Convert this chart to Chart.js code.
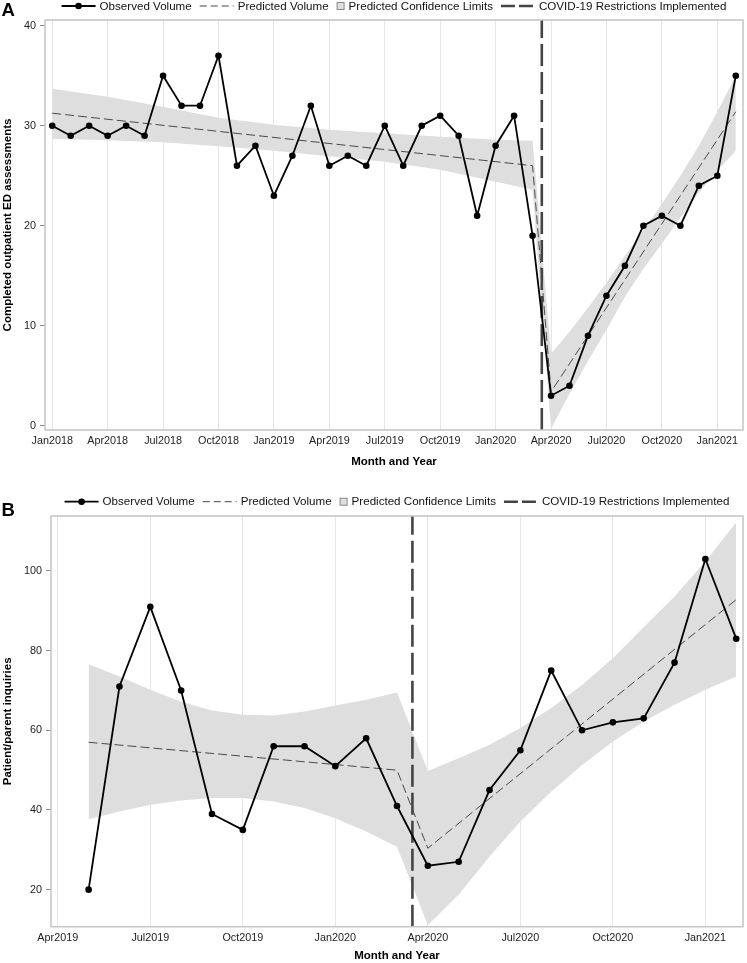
<!DOCTYPE html>
<html><head><meta charset="utf-8">
<script src="https://cdn.jsdelivr.net/npm/chart.js@4.4.1/dist/chart.umd.min.js"></script>
<style>
html,body{margin:0;padding:0;background:#fff;}
#wrap{width:747px;height:963px;position:relative;overflow:hidden;}
canvas{position:absolute;left:0;display:block;}
</style></head><body>
<div id="wrap">
<canvas id="cA" width="747" height="480" style="top:0"></canvas>
<canvas id="cB" width="747" height="483" style="top:480px"></canvas>
</div>
<script>
// ---------- data ----------
const monthNames = ['Jan2018','Feb2018','Mar2018','Apr2018','May2018','Jun2018','Jul2018','Aug2018','Sep2018','Oct2018','Nov2018','Dec2018',
 'Jan2019','Feb2019','Mar2019','Apr2019','May2019','Jun2019','Jul2019','Aug2019','Sep2019','Oct2019','Nov2019','Dec2019',
 'Jan2020','Feb2020','Mar2020','Apr2020','May2020','Jun2020','Jul2020','Aug2020','Sep2020','Oct2020','Nov2020','Dec2020',
 'Jan2021','Feb2021'];
const legendLabels = ['Observed Volume','Predicted Volume','Predicted Confidence Limits','COVID-19 Restrictions Implemented'];
const covidMonth = 26.5; // mid-March 2020 (months since Jan2018)

// Panel A
const monthsA = monthNames.slice(0);
const observedA = [30,29,30,29,30,29,35,32,32,37,26,28,23,27,32,26,27,26,30,26,30,31,29,21,28,31,19,3,4,9,13,16,20,21,20,24,25,35];
const predMonthsA = ['Jan2018','Mar2020','Apr2020','Feb2021'];
const predictedA = [31.25,26.0,3.4,31.4];
const bandMonthsA = ['Jan2018','Apr2018','Jul2018','Oct2018','Jan2019','Apr2019','Jul2019','Oct2019','Jan2020','Mar2020',
 'Apr2020','May2020','Jun2020','Jul2020','Aug2020','Sep2020','Oct2020','Nov2020','Dec2020','Jan2021','Feb2021'];
const upperA = [33.7,32.9,31.9,30.8,30.1,29.6,29.25,28.9,28.6,28.5, 7.2,9.4,11.8,14.3,17.0,19.5,22.2,25.0,28.0,31.4,35.0];
const lowerA = [28.7,28.55,28.35,27.95,27.5,26.95,26.4,25.6,24.4,23.6, -0.3,3.2,6.5,9.6,12.9,15.7,18.2,20.8,23.3,25.5,27.5];
const xTicksA = ['Jan2018','Apr2018','Jul2018','Oct2018','Jan2019','Apr2019','Jul2019','Oct2019','Jan2020','Apr2020','Jul2020','Oct2020','Jan2021'];
const yTicksA = [0,10,20,30,40];

// Panel B
const monthsB = monthNames.slice(16);
const observedB = [20,71,91,70,39,35,56,56,51,58,41,26,27,45,55,75,60,62,63,77,103,83];
const predMonthsB = ['May2019','Mar2020','Apr2020','Feb2021'];
const predictedB = [57.0,50.0,30.4,92.8];
const bandMonthsB = monthNames.slice(16);
const upperB = [76.6,73.5,70.2,67.2,65.0,63.9,63.7,64.7,66.2,67.7,69.5, 49.8,53.0,56.4,60.6,65.6,71.4,78.1,85.9,93.6,102.4,112.2];
const lowerB = [37.7,39.6,41.3,42.4,43.0,43.0,42.1,40.5,37.9,34.6,30.8, 11.1,18.7,28.3,37.1,44.6,51.3,57.2,62.2,66.4,70.2,73.5];
const xTicksB = ['Apr2019','Jul2019','Oct2019','Jan2020','Apr2020','Jul2020','Oct2020','Jan2021'];
const yTicksB = [20,40,60,80,100];

// ---------- rendering ----------
const FONT = '"Liberation Sans", Arial, Helvetica, sans-serif';
Chart.defaults.font.family = FONT;
Chart.defaults.color = '#222';

const mi = m => monthNames.indexOf(m);
const pts = (months, vals) => months.map((m, i) => ({x: mi(m), y: vals[i]}));

const decor = {
  id: 'decor',
  afterDraw(chart, args, o) {
    const {ctx, chartArea: a} = chart;
    ctx.save();
    ctx.strokeStyle = '#c4c4c4'; ctx.lineWidth = 1.5;
    ctx.strokeRect(a.left, a.top, a.right - a.left, a.bottom - a.top);
    // panel letter
    ctx.fillStyle = '#000';
    ctx.font = 'bold 18.5px ' + FONT;
    ctx.textAlign = 'left'; ctx.textBaseline = 'middle';
    ctx.fillText(o.letter, 1.5, o.letterY);
    // legend
    ctx.font = '11.6px ' + FONT;
    const ws = [34, 34, 8, 34];
    const gapSym = 4, gapItem = 8;
    const tws = legendLabels.map(l => ctx.measureText(l).width);
    let total = gapItem * 3;
    ws.forEach((w, i) => total += w + gapSym + tws[i]);
    let x = (a.left + a.right) / 2 - total / 2;
    const y = o.legendY;
    ws.forEach((w, i) => {
      ctx.save();
      if (i === 0) {
        ctx.strokeStyle = '#000'; ctx.lineWidth = 1.8;
        ctx.beginPath(); ctx.moveTo(x, y); ctx.lineTo(x + w, y); ctx.stroke();
        ctx.fillStyle = '#000'; ctx.beginPath(); ctx.arc(x + w / 2, y, 3.3, 0, Math.PI * 2); ctx.fill();
      } else if (i === 1) {
        ctx.strokeStyle = '#444'; ctx.lineWidth = 1; ctx.setLineDash([7, 4]);
        ctx.beginPath(); ctx.moveTo(x, y); ctx.lineTo(x + w, y); ctx.stroke();
      } else if (i === 2) {
        ctx.fillStyle = '#dedede'; ctx.strokeStyle = '#888'; ctx.lineWidth = 1;
        ctx.fillRect(x + 0.5, y - 3.5, 7, 7); ctx.strokeRect(x + 0.5, y - 3.5, 7, 7);
      } else {
        ctx.strokeStyle = '#444'; ctx.lineWidth = 2.6; ctx.setLineDash([14, 4]);
        ctx.beginPath(); ctx.moveTo(x, y); ctx.lineTo(x + w, y); ctx.stroke();
      }
      ctx.restore();
      ctx.fillStyle = '#111'; ctx.textAlign = 'left'; ctx.textBaseline = 'middle';
      ctx.fillText(legendLabels[i], x + w + gapSym, y + 0.5);
      x += w + gapSym + tws[i] + gapItem;
    });
    ctx.restore();
  }
};

function makeChart(id, p) {
  const datasets = [
    { label: legendLabels[0], data: pts(p.months, p.observed), borderColor: '#000', backgroundColor: '#000',
      borderWidth: 1.8, pointRadius: 3.3, pointBorderWidth: 0, pointBackgroundColor: '#000', fill: false },
    { label: legendLabels[1], data: pts(p.predMonths, p.predicted), borderColor: '#4a4a4a', borderWidth: 1,
      borderDash: [9, 4], pointRadius: 0, fill: false },
    { label: legendLabels[3], data: [{x: covidMonth, y: p.yMin}, {x: covidMonth, y: p.yMax}], borderColor: '#444',
      borderWidth: 2.6, borderDash: [22, 6], pointRadius: 0, fill: false },
    { label: legendLabels[2], data: pts(p.bandMonths, p.upper), borderWidth: 0, borderColor: 'rgba(0,0,0,0)',
      backgroundColor: '#dedede', pointRadius: 0, fill: '+1' },
    { label: 'lower', data: pts(p.bandMonths, p.lower), borderWidth: 0, borderColor: 'rgba(0,0,0,0)',
      pointRadius: 0, fill: false }
  ];
  return new Chart(document.getElementById(id), {
    type: 'line',
    data: { datasets },
    options: {
      responsive: false, animation: false, devicePixelRatio: 1,
      layout: { padding: { top: p.top, right: p.right, left: 0, bottom: 0 } },
      plugins: { legend: { display: false }, tooltip: { enabled: false },
        decor: { letter: p.letter, letterY: p.letterY, legendY: p.legendY } },
      scales: {
        x: {
          type: 'linear', min: p.xMin, max: p.xMax,
          afterBuildTicks: s => { s.ticks = p.xTicks.map(l => ({value: mi(l)})); },
          afterFit: s => { s.height = p.xH; },
          ticks: { callback: v => monthNames[v], autoSkip: false, maxRotation: 0, padding: 5,
            font: { size: 10.8 }, color: '#222' },
          grid: { color: '#e6e6e6', lineWidth: 1, drawTicks: false },
          border: { display: false },
          title: { display: true, text: 'Month and Year', font: { size: 11.5, weight: 'bold' }, color: '#000',
            padding: { top: 0, bottom: p.xTitlePad } }
        },
        y: {
          type: 'linear', min: p.yMin, max: p.yMax,
          afterBuildTicks: s => { s.ticks = p.yTicks.map(v => ({value: v})); },
          afterFit: s => { s.width = p.yW; },
          ticks: { padding: 4, font: { size: 10.8 }, color: '#222' },
          grid: { drawOnChartArea: false, drawTicks: true, tickLength: 5, color: '#8a8a8a' },
          border: { display: false },
          title: { display: true, text: p.yTitle, font: { size: 11.5, weight: 'bold' }, color: '#000',
            padding: { top: 1, bottom: 0 } }
        }
      }
    },
    plugins: [decor]
  });
}

makeChart('cA', {
  letter: 'A', letterY: 11, legendY: 6, top: 20, right: 2, xH: 50, xTitlePad: 11, yW: 45,
  months: monthsA, observed: observedA, predMonths: predMonthsA, predicted: predictedA,
  bandMonths: bandMonthsA, upper: upperA, lower: lowerA, xTicks: xTicksA, yTicks: yTicksA,
  xMin: -0.39, xMax: 37.39, yMin: -0.43, yMax: 40.57, yTitle: 'Completed outpatient ED assessments'
});
makeChart('cB', {
  letter: 'B', letterY: 31, legendY: 21.7, top: 36, right: 3, xH: 36.3, xTitlePad: 0, yW: 51,
  months: monthsB, observed: observedB, predMonths: predMonthsB, predicted: predictedB,
  bandMonths: bandMonthsB, upper: upperB, lower: lowerB, xTicks: xTicksB, yTicks: yTicksB,
  xMin: 14.78, xMax: 37.22, yMin: 10.7, yMax: 113.8, yTitle: 'Patient/parent inquiries'
});
</script>
</body></html>
